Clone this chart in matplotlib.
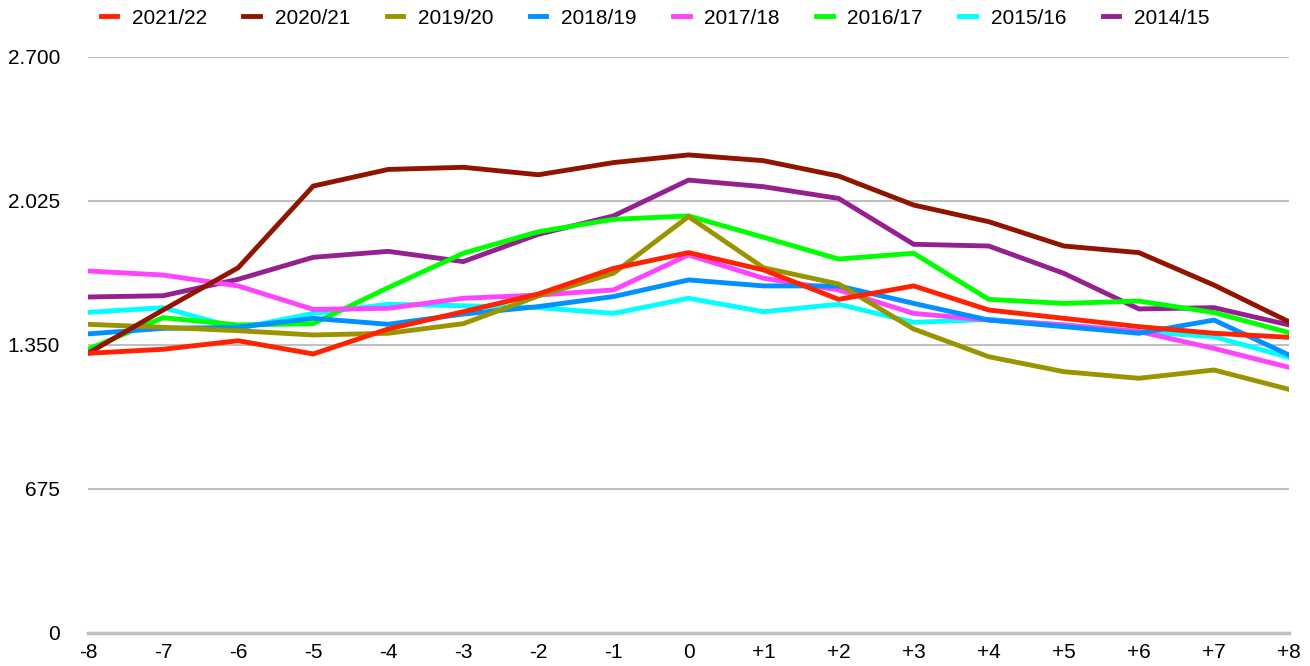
import matplotlib.pyplot as plt
from matplotlib.ticker import FuncFormatter

x_labels = ["-8", "-7", "-6", "-5", "-4", "-3", "-2", "-1", "0",
            "+1", "+2", "+3", "+4", "+5", "+6", "+7", "+8"]

s2021_22 = [1311, 1330, 1370, 1308, 1425, 1506, 1589, 1709, 1783,
            1702, 1564, 1627, 1514, 1475, 1436, 1405, 1386]
s2020_21 = [1311, 1514, 1712, 2095, 2173, 2183, 2148, 2205, 2241,
            2214, 2142, 2006, 1928, 1814, 1783, 1631, 1459]
s2019_20 = [1447, 1433, 1417, 1397, 1405, 1450, 1580, 1686, 1952,
            1712, 1636, 1425, 1295, 1225, 1194, 1233, 1142]
s2018_19 = [1402, 1428, 1433, 1475, 1447, 1495, 1530, 1577, 1655,
            1627, 1627, 1545, 1467, 1436, 1405, 1467, 1303]
s2017_18 = [1697, 1678, 1627, 1517, 1522, 1569, 1584, 1608, 1772,
            1663, 1608, 1498, 1467, 1444, 1413, 1334, 1245]
s2016_17 = [1330, 1478, 1444, 1450, 1619, 1780, 1881, 1939, 1955,
            1855, 1753, 1780, 1564, 1545, 1556, 1502, 1408]
s2015_16 = [1503, 1525, 1428, 1498, 1541, 1534, 1525, 1498, 1569,
            1506, 1541, 1456, 1470, 1444, 1413, 1389, 1292]
s2014_15 = [1575, 1581, 1658, 1761, 1789, 1741, 1869, 1955, 2123,
            2092, 2037, 1822, 1814, 1686, 1519, 1525, 1444]

series = [
    ("2021/22", s2021_22, "#ff2200"),
    ("2020/21", s2020_21, "#901400"),
    ("2019/20", s2019_20, "#9a9400"),
    ("2018/19", s2018_19, "#0090ff"),
    ("2017/18", s2017_18, "#ff44ff"),
    ("2016/17", s2016_17, "#00ff00"),
    ("2015/16", s2015_16, "#00ffff"),
    ("2014/15", s2014_15, "#952090"),
]

y_ticks = [0, 675, 1350, 2025, 2700]

plt.rcParams["font.family"] = ["Liberation Sans", "DejaVu Sans"]

fig = plt.figure(figsize=(13.1, 6.66), dpi=100)
ax = fig.add_axes([88 / 1310, 1 - 633 / 666, (1289 - 88) / 1310, (633 - 57) / 666])

xs = list(range(len(x_labels)))
handles = {}
for i, (name, vals, color) in reversed(list(enumerate(series))):
    (ln,) = ax.plot(xs, vals, color=color, lw=3.5, solid_joinstyle="miter",
                    zorder=3 + (len(series) - i))
    handles[name] = ln

ax.set_xlim(0, len(x_labels) - 1)
ax.set_ylim(0, 2700)
ax.set_yticks(y_ticks)
ax.yaxis.set_major_formatter(FuncFormatter(lambda v, _: f"{int(v):,}".replace(",", ".")))
ax.set_xticks(xs)
ax.set_xticklabels(x_labels)
ax.grid(axis="y", color="#c0c0c0", lw=1.5)
ax.set_axisbelow(True)
for side in ["top", "right", "left"]:
    ax.spines[side].set_visible(False)
ax.spines["bottom"].set_color("#c0c0c0")
ax.spines["bottom"].set_linewidth(2.5)
ax.tick_params(axis="both", length=0, labelsize=15)
ax.tick_params(axis="y", pad=20)
ax.tick_params(axis="x", pad=7)

fig.legend([handles[n] for n, _, _ in series], [n for n, _, _ in series],
           loc="center", bbox_to_anchor=(0.5, 1 - 18 / 666), ncol=8,
           frameon=False, fontsize=15, handlelength=0.8, handletextpad=0.7,
           columnspacing=1.75)

fig.savefig("out.png", dpi=100)
